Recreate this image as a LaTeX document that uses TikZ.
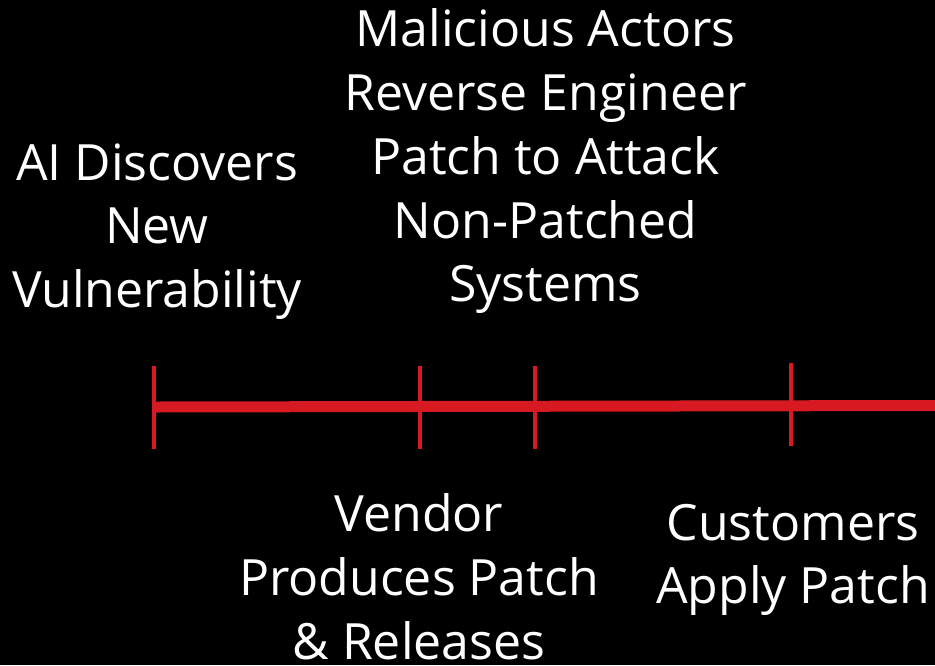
\documentclass[tikz,border=0pt]{standalone}
\usepackage{fontspec}
\setmainfont{Open Sans}
\definecolor{tlred}{RGB}{215,26,33}
\begin{document}
\begin{tikzpicture}[x=1pt,y=-1pt,
  lbl/.style={text=white, align=center, inner sep=0pt, anchor=north,
    font=\fontsize{50}{63.7}\selectfont},
  tickmark/.style={draw=tlred, line width=4pt},
  tline/.style={draw=tlred, line width=11pt}]
\fill[black] (0,0) rectangle (935,665);
\useasboundingbox (0,0) rectangle (935,665);
% timeline
\coordinate (s) at (156,407);
\coordinate (e) at (935,405.5);
\draw[tline] (s) -- (e);
% ticks
\coordinate (t1a) at (154.3,366); \coordinate (t1b) at (154.3,449);
\coordinate (t2a) at (419.7,366); \coordinate (t2b) at (419.7,449);
\coordinate (t3a) at (535,366);   \coordinate (t3b) at (535,449);
\coordinate (t4a) at (791,363);   \coordinate (t4b) at (791,446);
\draw[tickmark] (t1a) -- (t1b);
\draw[tickmark] (t2a) -- (t2b);
\draw[tickmark] (t3a) -- (t3b);
\draw[tickmark] (t4a) -- (t4b);
% labels
\node[lbl] (disc) at (157,140) {\rule{0pt}{0.8em}AI Discovers\\New\\Vulnerability};
\node[lbl] (mal) at (545.5,6.7) {\rule{0pt}{0.8em}Malicious Actors\\Reverse Engineer\\Patch to Attack\\Non-Patched\\Systems};
\node[lbl] (vend) at (419,491.5) {\rule{0pt}{0.8em}Vendor\\Produces Patch\\\& Releases};
\node[lbl] (cust) at (793,500) {\rule{0pt}{0.8em}Customers\\Apply Patch};
\end{tikzpicture}
\end{document}
